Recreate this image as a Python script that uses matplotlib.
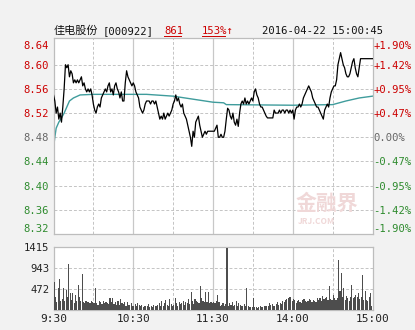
import matplotlib
matplotlib.use("Agg")
import matplotlib.pyplot as plt
from matplotlib.lines import Line2D

plt.rcParams['font.family'] = ['Noto Sans CJK SC', 'DejaVu Sans']

# ---------------- data ----------------
prev_close = 8.48
price_ticks = [8.32, 8.36, 8.40, 8.44, 8.48, 8.52, 8.56, 8.60, 8.64]
pct_labels = ['-1.90%', '-1.42%', '-0.95%', '-0.47%', '0.00%',
              '+0.47%', '+0.95%', '+1.42%', '+1.90%']
vol_ticks = [472, 943, 1415]
time_ticks = [0, 60, 120, 180, 240]
time_labels = ['9:30', '10:30', '11:30', '14:00', '15:00']

price = [
    8.55, 8.54, 8.52, 8.53, 8.51, 8.52, 8.505, 8.53, 8.56, 8.60,
    8.595, 8.60, 8.58, 8.59, 8.585, 8.57, 8.575, 8.57, 8.575, 8.57,
    8.575, 8.58, 8.565, 8.57, 8.56, 8.555, 8.56, 8.555, 8.56, 8.55,
    8.535, 8.525, 8.52, 8.53, 8.535, 8.53, 8.545, 8.55, 8.555, 8.56,
    8.555, 8.565, 8.57, 8.555, 8.56, 8.55, 8.565, 8.57, 8.56, 8.555,
    8.545, 8.555, 8.54, 8.54, 8.57, 8.59, 8.58, 8.575, 8.57, 8.565,
    8.57, 8.565, 8.555, 8.55, 8.545, 8.53, 8.525, 8.52, 8.525, 8.535,
    8.54, 8.54, 8.54, 8.535, 8.54, 8.54, 8.535, 8.54, 8.53, 8.52,
    8.51, 8.515, 8.51, 8.52, 8.51, 8.515, 8.52, 8.515, 8.52, 8.525,
    8.535, 8.54, 8.55, 8.54, 8.545, 8.535, 8.53, 8.535, 8.52, 8.515,
    8.51, 8.50, 8.49, 8.48, 8.465, 8.49, 8.48, 8.505, 8.51, 8.515,
    8.50, 8.49, 8.48, 8.485, 8.49, 8.485, 8.49, 8.49, 8.49, 8.49,
    8.49, 8.49, 8.495, 8.50, 8.48, 8.48, 8.485, 8.48, 8.48, 8.49,
    8.51, 8.528, 8.525, 8.515, 8.51, 8.52, 8.505, 8.50, 8.51, 8.498,
    8.52, 8.535, 8.54, 8.535, 8.545, 8.535, 8.54, 8.535, 8.54, 8.545,
    8.54, 8.555, 8.56, 8.55, 8.545, 8.535, 8.53, 8.53, 8.525, 8.52,
    8.515, 8.512, 8.512, 8.512, 8.512, 8.512, 8.525, 8.52, 8.52, 8.52,
    8.525, 8.52, 8.525, 8.525, 8.52, 8.525, 8.525, 8.52, 8.525, 8.52,
    8.525, 8.51, 8.525, 8.53, 8.53, 8.535, 8.53, 8.535, 8.545, 8.55,
    8.555, 8.56, 8.565, 8.56, 8.555, 8.545, 8.54, 8.535, 8.53, 8.53,
    8.525, 8.52, 8.515, 8.51, 8.525, 8.53, 8.535, 8.53, 8.545, 8.555,
    8.56, 8.565, 8.565, 8.575, 8.60, 8.61, 8.62, 8.61, 8.60, 8.595,
    8.585, 8.58, 8.58, 8.585, 8.595, 8.605, 8.61, 8.595, 8.585, 8.58,
    8.595, 8.61, 8.61, 8.61, 8.61, 8.61, 8.61, 8.61, 8.61, 8.61,
    8.61,
]

avg_minutes = [0, 1, 2, 4, 6, 8, 10, 12, 15, 20, 30, 60, 70, 90, 108,
               120, 128, 130, 180, 210, 220, 230, 240]
avg_price = [8.462, 8.48, 8.495, 8.505, 8.512, 8.52, 8.53, 8.54, 8.545,
             8.550, 8.551, 8.551, 8.551, 8.548, 8.542, 8.538, 8.537,
             8.534, 8.533, 8.534, 8.540, 8.545, 8.548]

volume = [
    620, 300, 180, 490, 700, 200, 250, 490, 200, 450,
    300, 1030, 380, 220, 380, 160, 340, 200, 570, 300,
    210, 815, 190, 160, 200, 170, 190, 150, 200, 180,
    160, 490, 150, 120, 200, 170, 140, 210, 160, 190,
    150, 130, 260, 180, 270, 140, 170, 120, 200, 110,
    240, 150, 130, 190, 100, 170, 120, 110, 160, 90,
    100, 130, 80, 150, 120, 90, 110, 70, 100, 80,
    90, 130, 70, 100, 60, 110, 90, 80, 120, 150,
    100, 200, 90, 150, 230, 120, 100, 250, 130, 90,
    120, 270, 150, 100, 180, 130, 150, 210, 120, 170,
    160, 250, 140, 400, 200, 130, 250, 200, 180, 150,
    530, 260, 200, 170, 400, 170, 400, 150, 190, 160,
    170, 150, 200, 340, 170, 100, 120, 150, 90, 130,
    1392, 100, 150, 120, 190, 100, 110, 200, 90, 150,
    120, 100, 80, 140, 90, 500, 100, 60, 70, 60,
    280, 60, 70, 50, 60, 80, 70, 60, 90, 80,
    100, 90, 150, 110, 130, 100, 90, 140, 170, 120,
    150, 130, 200, 180, 230, 240, 270, 300, 290, 200,
    250, 220, 160, 210, 230, 170, 150, 220, 240, 200,
    180, 200, 250, 230, 180, 220, 200, 190, 260, 230,
    270, 200, 320, 250, 280, 300, 230, 530, 250, 230,
    340, 270, 230, 260, 1118, 420, 837, 300, 500, 220,
    310, 260, 200, 300, 570, 260, 300, 340, 300, 380,
    250, 300, 776, 230, 420, 220, 200, 300, 390, 100,
]

# ---------------- style ----------------
BG = '#f2f2f2'
GRID = '#c4c4c4'
RED = '#cc0000'
GREEN = '#2e8b2e'
GRAY = '#666666'
MONO = ['DejaVu Sans Mono', 'Noto Sans CJK SC']

fig = plt.figure(figsize=(4.15, 3.30), dpi=100)
fig.patch.set_facecolor(BG)

ax = fig.add_axes([53.5 / 415, 1 - 234 / 330, 319 / 415, 196 / 330])
axv = fig.add_axes([53.5 / 415, 1 - 310 / 330, 319 / 415, 63 / 330])

minutes = list(range(len(price)))

for a in (ax, axv):
    a.set_facecolor('white')
    a.set_xlim(0, 240)
    for s in a.spines.values():
        s.set_color('#bdbdbd')
        s.set_linewidth(0.9)
    for m in (30, 90, 150, 210):
        a.axvline(m, color=GRID, lw=0.7, ls=(0, (3, 2)), zorder=0)
    for m in (60, 120, 180):
        a.axvline(m, color='#c8c8c8', lw=0.9, zorder=0)
    a.tick_params(length=0)

# main panel
ax.set_ylim(8.32, 8.6442)
for p in price_ticks[1:-1]:
    ax.axhline(p, color=GRID, lw=0.7, ls=(0, (3, 2)), zorder=0)
ax.plot(minutes, price, color='black', lw=0.9, zorder=3)
ax.plot(avg_minutes, avg_price, color='#3f9c9c', lw=1.0, zorder=2)

ax.set_yticks(price_ticks)
ax.set_yticklabels([f'{p:.2f}' for p in price_ticks], family=MONO, fontsize=7.6)
ax.set_xticks([])
ax.tick_params(axis='y', pad=3)

ax2 = ax.twinx()
ax2.set_ylim(ax.get_ylim())
ax2.set_yticks(price_ticks)
ax2.set_yticklabels(pct_labels, family=MONO, fontsize=7.6)
ax2.tick_params(length=0, pad=0.5)
for s in ax2.spines.values():
    s.set_visible(False)

for labs in (ax.get_yticklabels(), ax2.get_yticklabels()):
    for lab, p in zip(labs, price_ticks):
        if p > prev_close + 1e-9:
            lab.set_color(RED)
        elif p < prev_close - 1e-9:
            lab.set_color(GREEN)
        else:
            lab.set_color(GRAY)
    labs[-1].set_va('top')
    labs[0].set_va('bottom')

# volume panel
axv.set_ylim(0, 1415)
for v in vol_ticks[:-1]:
    axv.axhline(v, color=GRID, lw=0.7, ls=(0, (3, 2)), zorder=0)
axv.bar([m + 0.5 for m in range(len(volume))], volume, width=0.85,
        color='#4d4d4d', linewidth=0, zorder=3)
axv.set_yticks(vol_ticks)
axv.set_yticklabels([str(v) for v in vol_ticks], family=MONO, fontsize=7.6,
                    color='#222222')
axv.tick_params(axis='y', pad=3)
axv.set_xticks(time_ticks)
axv.set_xticklabels(time_labels, family=MONO, fontsize=8, color='#222222')
axv.tick_params(axis='x', pad=3)

# header
ty = 1 - 31 / 330
fig.text(54 / 415, ty, '佳电股份', fontsize=8, va='center', ha='left',
         color='#111111')
fig.text(103 / 415, ty, '[000922]', family=MONO, fontsize=7.6, va='center',
         ha='left', color='#111111')
fig.text(164 / 415, ty, '861', family=MONO, fontsize=7.6, va='center',
         ha='left', color=RED)
fig.text(202 / 415, ty, '153%↑', family=MONO, fontsize=7.6, va='center',
         ha='left', color=RED)
fig.text(262 / 415, ty, '2016-04-22 15:00:45', family=MONO, fontsize=7.6,
         va='center', ha='left', color='#111111')
uy = 1 - 36 / 330
fig.add_artist(Line2D([164 / 415, 181 / 415], [uy, uy], color=RED, lw=0.7))
fig.add_artist(Line2D([202 / 415, 225 / 415], [uy, uy], color=RED, lw=0.7))

# watermark
fig.text(327 / 415, 1 - 203 / 330, '金融界', fontsize=15, color='#f0d8d8',
         ha='center', va='center', fontweight='bold', zorder=1)
fig.text(316 / 415, 1 - 221 / 330, 'JRJ.COM', fontsize=6, color='#f0d8d8',
         ha='center', va='center', style='italic', fontweight='bold', zorder=1)

fig.savefig('out.png', dpi=100, facecolor=BG)
